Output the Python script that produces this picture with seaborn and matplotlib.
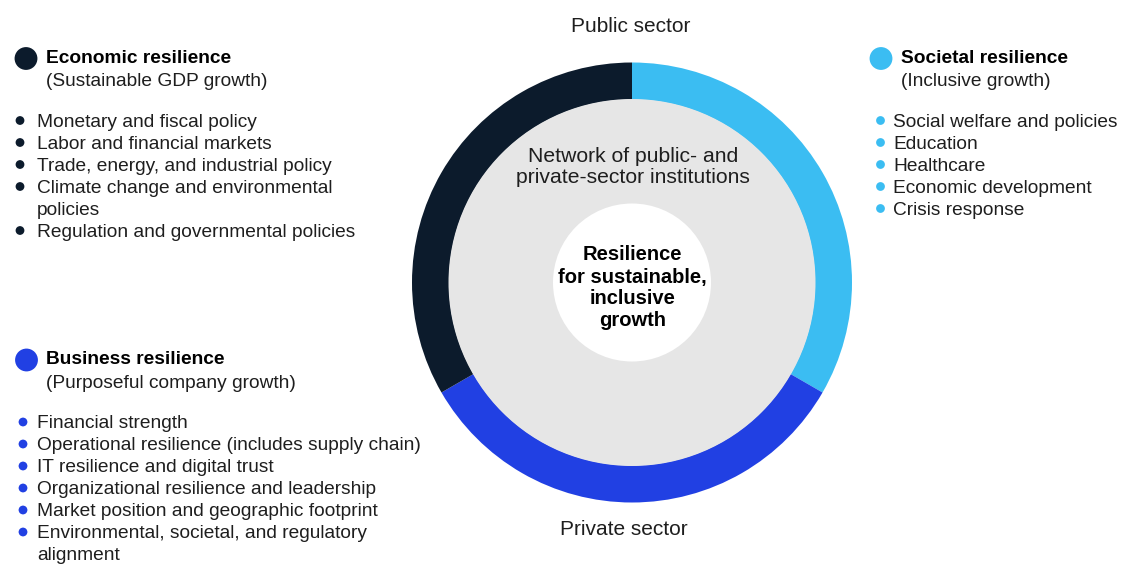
import matplotlib
matplotlib.use("Agg")
import matplotlib.pyplot as plt
import seaborn as sns
import pandas as pd

# segments of the ring, clockwise from 12 o'clock
segments = ["Societal resilience", "Business resilience", "Economic resilience"]
shares = [1, 1, 1]
seg_colors = ["#3BBDF2", "#2140E3", "#0C1B2C"]

econ_title = "Economic resilience"
econ_sub = "(Sustainable GDP growth)"
econ_items = ["Monetary and fiscal policy", "Labor and financial markets",
              "Trade, energy, and industrial policy",
              "Climate change and environmental\npolicies",
              "Regulation and governmental policies"]

soc_title = "Societal resilience"
soc_sub = "(Inclusive growth)"
soc_items = ["Social welfare and policies", "Education", "Healthcare",
             "Economic development", "Crisis response"]

bus_title = "Business resilience"
bus_sub = "(Purposeful company growth)"
bus_items = ["Financial strength", "Operational resilience (includes supply chain)",
             "IT resilience and digital trust", "Organizational resilience and leadership",
             "Market position and geographic footprint",
             "Environmental, societal, and regulatory\nalignment"]

top_label = "Public sector"
bottom_label = "Private sector"
ring_lines = ["Network of public- and", "private-sector institutions"]
core_lines = ["Resilience", "for sustainable,", "inclusive", "growth"]

sns.set_theme(style="white")
plt.rcParams["font.family"] = ["Liberation Sans", "DejaVu Sans"]

W, H = 1138, 565
fig = plt.figure(figsize=(W / 100, H / 100), dpi=100)
ax = fig.add_axes([0, 0, 1, 1])

cx, cy = 632, H - 282.5
ax.pie(shares, colors=seg_colors, startangle=90, counterclock=False,
       radius=220, center=(cx, cy), wedgeprops=dict(width=37, linewidth=0))
ax.add_patch(plt.Circle((cx, cy), 183.5, color="#E6E6E6", lw=0))
ax.add_patch(plt.Circle((cx, cy), 79, color="white", lw=0))

fs = 13.8
txt = "#1E1E1E"
lh = 22


def block(x_big, x_dot, x_head, x_text, y_head, color, title, sub, items):
    # y_head: baseline of the title (pixels from top)
    ax.text(x_head, H - y_head, title, fontsize=fs, fontweight="bold",
            color="black", va="baseline", ha="left")
    ax.text(x_head, H - (y_head + 23.5), sub, fontsize=fs, color=txt,
            va="baseline", ha="left")
    dots = [(x_big, H - (y_head - 4.5), 270)]
    y = y_head + 64
    for it in items:
        lines = it.split("\n")
        dots.append((x_dot, H - (y - 6.5), 40))
        for ln in lines:
            ax.text(x_text, H - y, ln, fontsize=fs, color=txt, va="baseline",
                    ha="left")
            y += lh
    df = pd.DataFrame(dots, columns=["x", "y", "s"])
    sns.scatterplot(data=df, x="x", y="y", size="s", sizes=(40, 270),
                    color=color, edgecolor="none", legend=False, ax=ax)


block(26, 20, 46.5, 37, 63, seg_colors[2], econ_title, econ_sub, econ_items)
block(881, 880.5, 901.5, 893, 63, seg_colors[0], soc_title, soc_sub, soc_items)
block(26.5, 23, 46, 37, 364.5, seg_colors[1], bus_title, bus_sub, bus_items)

ax.set_xlim(0, W)
ax.set_ylim(0, H)
ax.set_aspect("equal")
ax.set_axis_off()

ax.text(631, H - 32, top_label, fontsize=15, color=txt, ha="center", va="baseline")
ax.text(624, H - 535, bottom_label, fontsize=15, color=txt, ha="center", va="baseline")
for i, ln in enumerate(ring_lines):
    ax.text(633, H - (161.5 + 21.5 * i), ln, fontsize=15.2, color=txt,
            ha="center", va="baseline")
for i, ln in enumerate(core_lines):
    ax.text(632.5, H - (260.5 + 22 * i), ln, fontsize=14.5, fontweight="bold",
            color="black", ha="center", va="baseline")

fig.savefig("out.png", dpi=100)
